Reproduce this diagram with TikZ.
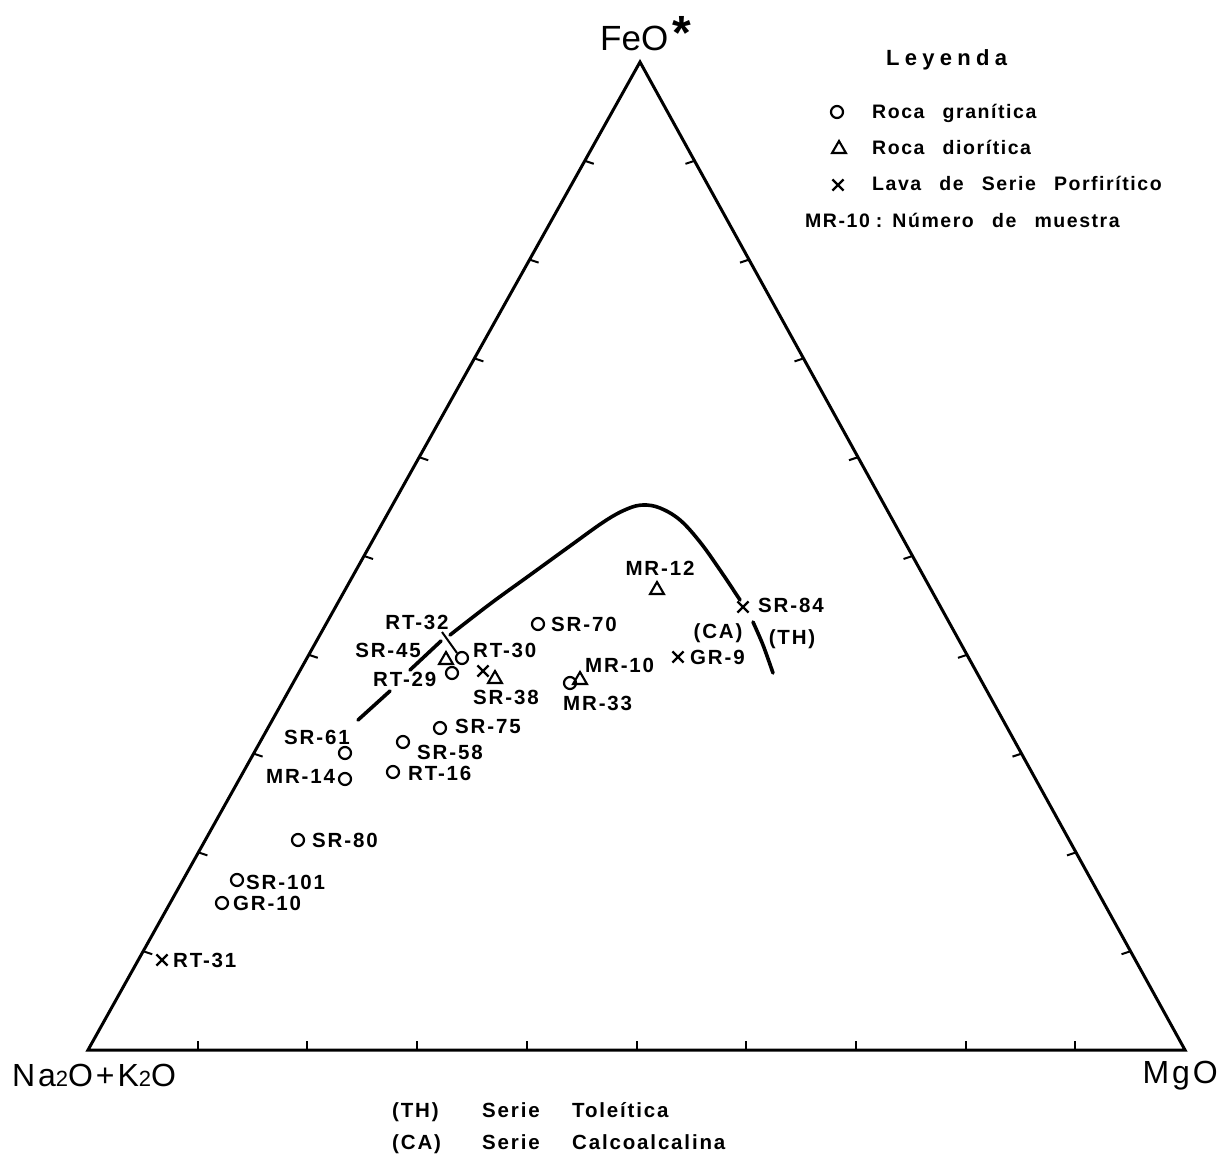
\documentclass[tikz,border=0pt]{standalone}
\usepackage{fontspec}
\setmainfont{Liberation Sans}
\newfontfamily\labfont[LetterSpace=9]{Liberation Sans}
\newfontfamily\legfont[LetterSpace=8,WordSpace=2.6]{Liberation Sans}
\newfontfamily\widefont[LetterSpace=24]{Liberation Sans}
\usetikzlibrary{shapes.geometric,shapes.misc,calc}
\begin{document}
\begin{tikzpicture}[x=1pt,y=-1pt,
  lab/.style={font=\labfont\bfseries\fontsize{20.5}{23}\selectfont, inner sep=0pt, anchor=base west},
  labc/.style={lab, anchor=base},
  legtext/.style={font=\legfont\bfseries\fontsize{19.5}{22}\selectfont, inner sep=0pt, anchor=base west},
  gran/.style={circle, draw, line width=2.2pt, minimum size=12pt, inner sep=0pt},
  dior/.style={regular polygon, regular polygon sides=3, draw, line width=2.1pt, minimum size=16pt, inner sep=0pt},
  lava/.style={cross out, draw, line width=2.2pt, minimum size=9pt, inner sep=0pt},
  axisline/.style={line width=3pt, line join=miter},
  tickmark/.style={line width=2pt},
  bound/.style={line width=3.6pt, line cap=round},
  leader/.style={line width=2pt},
  vlabel/.style={inner sep=0pt, font=\labfont\fontsize{32}{34}\selectfont}]
\useasboundingbox (0,0) rectangle (1224,1161);
\fill[white] (0,0) rectangle (1224,1161);

% triangle
\coordinate (BL) at (88,1050);
\coordinate (BR) at (1185,1050);
\coordinate (T) at (640,62);
\draw[axisline] (BL) -- (BR) -- (T) -- cycle;
\foreach \k in {1,...,9}{
  \draw[tickmark] ($(BL)!{\k/10}!(BR)$) -- ++(0,-9);
  \draw[tickmark] ($(BL)!{\k/10}!(T)$) -- ++(9,3);
  \draw[tickmark] ($(BR)!{\k/10}!(T)$) -- ++(-9,3);
}

% vertex labels
\node[inner sep=0pt, anchor=base west, font=\fontsize{35}{36}\selectfont] (feo) at (600,51)
  {FeO\kern4pt\raisebox{1pt}{\fontsize{48}{48}\selectfont\bfseries *}};
\node[vlabel, anchor=base west] (nak) at (12,1086)
  {Na{\fontsize{22}{22}\selectfont 2}O+K{\fontsize{22}{22}\selectfont 2}O};
\node[vlabel, anchor=base east] (mgo) at (1218,1083) {MgO};

% boundary curve CA / TH
\draw[bound] (358,720) -- (390,691);
\draw[bound] (410,670) -- (441,641);
\draw[bound] plot[smooth, tension=0.6] coordinates {(450,635) (490,604) (530,575) (570,546) (605,521) (627,509) (643,505) (660,508) (680,520) (700,542) (720,570) (740,600)};
\draw[bound] plot[smooth] coordinates {(753,622) (763,645) (773,673)};

% granitic rocks
\node[gran] (sr70) at (538,624) {};
\node[gran] (rt30) at (462,658) {};
\node[gran] (rt29) at (452,673) {};
\node[gran] (mr33) at (570,683) {};
\node[gran] (sr75) at (440,728) {};
\node[gran] (sr58) at (403,742) {};
\node[gran] (sr61) at (345,753) {};
\node[gran] (mr14) at (345,779) {};
\node[gran] (rt16) at (393,772) {};
\node[gran] (sr80) at (298,840) {};
\node[gran] (sr101) at (237,880) {};
\node[gran] (gr10) at (222,903) {};
% dioritic rocks
\node[dior] (mr12) at (657,590) {};
\node[dior] (sr45) at (446,660) {};
\node[dior] (sr38t) at (495,679) {};
\node[dior] (mr10) at (580,680) {};
% lavas
\node[lava] (sr84) at (743,607) {};
\node[lava] (gr9) at (678,657) {};
\node[lava] (sr38x) at (483,671) {};
\node[lava] (rt31) at (162,960) {};

% sample labels
\node[lab] (lsr70) at (551,631) {SR-70};
\node[labc] (lmr12) at (660,575) {MR-12};
\node[lab] (lsr84) at (758,612) {SR-84};
\node[labc] (lca) at (718,638) {(CA)};
\node[labc] (lth) at (792,644) {(TH)};
\node[lab] (lgr9) at (690,664) {GR-9};
\node[lab] (lmr10) at (585,672) {MR-10};
\node[lab] (lmr33) at (563,710) {MR-33};
\node[labc] (lrt32) at (417,629) {RT-32};
\node[labc] (lsr45) at (388,657) {SR-45};
\node[lab] (lrt30) at (473,657) {RT-30};
\node[lab] (lrt29) at (373,686) {RT-29};
\node[lab] (lsr38) at (473,704) {SR-38};
\node[lab] (lsr75) at (455,733) {SR-75};
\node[lab] (lsr58) at (417,759) {SR-58};
\node[lab] (lsr61) at (284,744) {SR-61};
\node[lab] (lmr14) at (266,783) {MR-14};
\node[lab] (lrt16) at (408,780) {RT-16};
\node[lab] (lsr80) at (312,847) {SR-80};
\node[lab] (lsr101) at (246,889) {SR-101};
\node[lab] (lgr10) at (233,910) {GR-10};
\node[lab] (lrt31) at (173,967) {RT-31};

% leader RT-32
\coordinate (rt32lead) at (442,632);
\draw[leader] (rt32lead) -- (rt30.north west);

% legend
\node[inner sep=0pt, anchor=base west, font=\widefont\bfseries\fontsize{22}{24}\selectfont] (leyenda) at (886,66) {Leyenda};
\node[gran] (lg1) at (837,112) {};
\node[legtext] (lt1) at (872,119) {Roca granítica};
\node[dior] (lg2) at (839,149) {};
\node[legtext] (lt2) at (872,155) {Roca diorítica};
\node[lava] (lg3) at (838,185) {};
\node[legtext] (lt3) at (872,191) {Lava de Serie Porfirítico};
\node[legtext] (lt4) at (805,228) {MR-10\kern6pt:\kern10pt Número de muestra};

% series legend
\node[lab] (serth) at (392,1117) {\makebox[90pt][l]{(TH)}\makebox[90pt][l]{Serie}Toleítica};
\node[lab] (serca) at (392,1149) {\makebox[90pt][l]{(CA)}\makebox[90pt][l]{Serie}Calcoalcalina};
\end{tikzpicture}
\end{document}
